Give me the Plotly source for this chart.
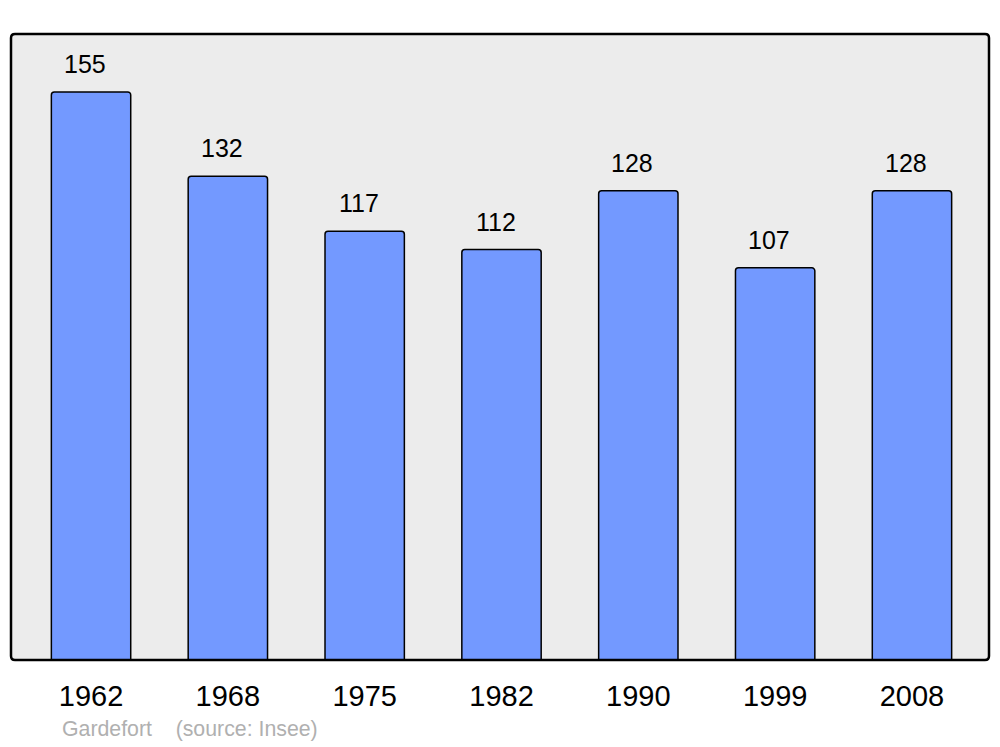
import plotly.graph_objects as go

# Population par année (Gardefort)
annees = ["1962", "1968", "1975", "1982", "1990", "1999", "2008"]
population = [155, 132, 117, 112, 128, 107, 128]
source = "Gardefort    (source: Insee)"

# La page a une marge de 8 px : figure un peu plus petite que la fenêtre
W, H = 984, 737
L, R, T, B = 3, 3, 26, 85
pw, ph = W - L - R, H - T - B

fig = go.Figure()

fig.add_trace(go.Bar(
    x=annees,
    y=population,
    width=0.58,
    marker=dict(color="#7399ff", line=dict(color="#000000", width=1.5)),
    hoverinfo="x+y",
))

# Étiquettes de valeurs au-dessus des barres (x = index de catégorie)
for i, p in enumerate(population):
    fig.add_annotation(
        x=i, y=p, text=str(p), showarrow=False,
        yshift=28, xshift=-6, yanchor="middle",
        font=dict(size=25, color="#000000", family="Liberation Sans"),
    )

# Cadre arrondi autour de la zone de tracé
rx, ry = 4 / pw, 4 / ph
path = (
    f"M {rx},0 L {1-rx},0 Q 1,0 1,{ry} L 1,{1-ry} Q 1,1 {1-rx},1 "
    f"L {rx},1 Q 0,1 0,{1-ry} L 0,{ry} Q 0,0 {rx},0 Z"
)
fig.add_shape(type="path", path=path, xref="paper", yref="paper",
              line=dict(color="#000000", width=2.5), layer="above")

# Source en bas
fig.add_annotation(
    x=(52 - L) / pw, y=(H - B - 721) / ph, xref="paper", yref="paper",
    text=source, showarrow=False, xanchor="left", yanchor="middle",
    font=dict(size=21.3, color="#b0b0b0", family="Liberation Sans"),
)

fig.update_layout(
    width=W, height=H,
    margin=dict(l=L, r=R, t=T, b=B),
    paper_bgcolor="#ffffff",
    plot_bgcolor="#ececec",
    barcornerradius=3,
    showlegend=False,
    font=dict(family="Liberation Sans", color="#000000"),
    xaxis=dict(
        type="category",
        range=[-0.585, 6.563],
        showgrid=False, zeroline=False, showline=False,
        ticks="outside", ticklen=10, tickcolor="rgba(0,0,0,0)",
        tickfont=dict(size=29, color="#000000"),
    ),
    yaxis=dict(
        range=[0, 170.8],
        showgrid=False, zeroline=False, showline=False,
        showticklabels=False, ticks="",
    ),
)

fig.write_html("out.html")
